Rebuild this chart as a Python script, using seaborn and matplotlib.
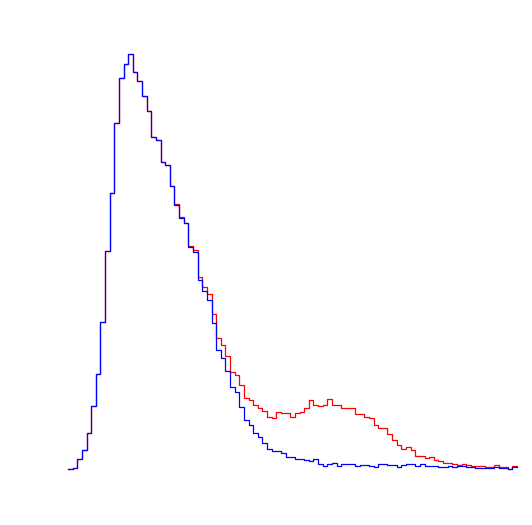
import numpy as np
import pandas as pd
import matplotlib
matplotlib.use("Agg")
import matplotlib.pyplot as plt
import seaborn as sns

# Bin edges: 97 equal-width bins (bin index units)
edges = list(range(0, 98))
centers = [e + 0.5 for e in edges[:-1]]

# Blue histogram, bin heights
blue = [2, 3, 12, 21, 38, 65, 97, 149, 220, 278, 348, 393, 407, 417, 399, 390,
        375, 360, 334, 331, 309, 306, 285, 266, 253, 248, 224, 219, 191, 180,
        171, 148, 121, 113, 100, 84, 79, 64, 51, 46, 38, 34, 28, 22, 20, 20,
        18, 14, 14, 12, 12, 11, 10, 12, 7, 5, 7, 8, 5, 7, 7, 7, 5, 6, 6, 5,
        4, 7, 7, 6, 6, 4, 6, 7, 7, 5, 7, 5, 5, 5, 4, 4, 5, 4, 5, 5, 4, 4, 3,
        3, 3, 3, 4, 3, 3, 2, 4]

# Red histogram, bin heights (identical to blue on the rising side)
red = blue[:23] + [
        267, 254, 248, 225, 221, 194, 184, 177, 157, 133, 126, 115, 99, 96,
        86, 73, 71, 66, 63, 60, 54, 53, 59, 58, 58, 54, 58, 59, 63, 71, 66,
        65, 66, 72, 66, 66, 63, 63, 63, 57, 57, 54, 53, 46, 43, 43, 37, 31,
        26, 22, 24, 21, 15, 15, 13, 14, 11, 10, 8, 8, 7, 6, 7, 6, 5, 5, 5,
        4, 4, 6, 4, 4, 2, 5]

df = pd.DataFrame({"x": centers, "blue": blue, "red": red})

fig = plt.figure(figsize=(5.32, 5.25), dpi=100)
ax = fig.add_axes([0, 0, 1, 1])

sns.histplot(data=df, x="x", weights="red", bins=edges, element="step",
             fill=False, color="#ff0000", linewidth=0.9, ax=ax)
sns.histplot(data=df, x="x", weights="blue", bins=edges, element="step",
             fill=False, color="#0000ff", linewidth=0.9, ax=ax)

# map bin units onto the picture area
px = 4.63
ax.set_xlim(-68 / px, (532 - 68) / px)
ax.set_ylim(471 - 525, 471)
ax.axis("off")

fig.savefig("out.png", dpi=100, facecolor="white")
